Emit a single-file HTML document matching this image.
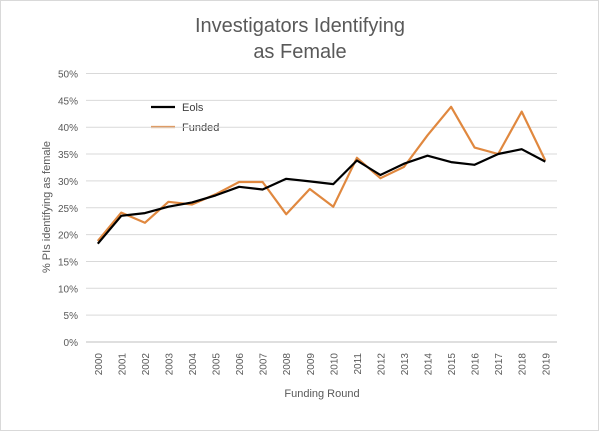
<!DOCTYPE html>
<html><head><meta charset="utf-8"><style>
html,body{margin:0;padding:0;background:#fff;}
svg{display:block;font-family:"Liberation Sans",sans-serif;}
</style></head><body>
<svg id="s" width="600" height="432" viewBox="0 0 600 432" xmlns="http://www.w3.org/2000/svg">
<rect x="0.5" y="0.5" width="598" height="430" fill="#fff" stroke="#d9d9d9"/>
<text x="300" y="32" text-anchor="middle" font-size="20" fill="#595959">Investigators Identifying</text>
<text x="300" y="58" text-anchor="middle" font-size="20" fill="#595959">as Female</text>
<text transform="translate(50,207) rotate(-90)" text-anchor="middle" font-size="11" fill="#595959">% PIs identifying as female</text>
<text x="322" y="397" text-anchor="middle" font-size="11" fill="#595959">Funding Round</text>
<line x1="151" y1="107" x2="175" y2="107" stroke="#000" stroke-width="2.2"/>
<text x="182" y="111" font-size="11" fill="#404040">Eols</text>
<line x1="151" y1="127" x2="175" y2="127" stroke="#e0883f" stroke-width="2.2"/>
<text x="182" y="131" font-size="11" fill="#404040">Funded</text>
<g id="g"></g>
</svg>
<script>
var g=document.getElementById('g'),ns='http://www.w3.org/2000/svg',h='';
function Y(v){return 342-v*5.37;}
function X(i){return 97.8+i*23.55;}
for(var k=0;k<=10;k++){var y=Y(k*5);h+='<line x1="86" x2="557" y1="'+y+'" y2="'+y+'" stroke="'+(k==0?'#bfbfbf':'#d9d9d9')+'" stroke-width="1"/>';
h+='<text x="78" y="'+(y+4)+'" text-anchor="end" font-size="10" fill="#595959">'+(k*5)+'%</text>';}
for(var i=0;i<20;i++){h+='<text transform="translate('+(X(i)+4)+',353) rotate(-90)" text-anchor="end" font-size="10" fill="#595959">'+(2000+i)+'</text>';}
var e=[18.3,23.5,24,25.2,26,27.3,28.9,28.4,30.4,29.9,29.4,33.8,31.1,33.2,34.7,33.5,33,35,35.9,33.6];
var f=[18.8,24.1,22.2,26.1,25.6,27.5,29.8,29.8,23.8,28.5,25.2,34.3,30.5,32.6,38.5,43.8,36.2,35,42.9,33.8];
function p(a){return a.map(function(v,i){return X(i).toFixed(1)+','+Y(v).toFixed(1)}).join(' ');}
h+='<polyline points="'+p(f)+'" fill="none" stroke="#e0883f" stroke-width="2.2" stroke-linejoin="round"/>';
h+='<polyline points="'+p(e)+'" fill="none" stroke="#000" stroke-width="2.2" stroke-linejoin="round"/>';
g.innerHTML=h;
</script>
</body></html>
